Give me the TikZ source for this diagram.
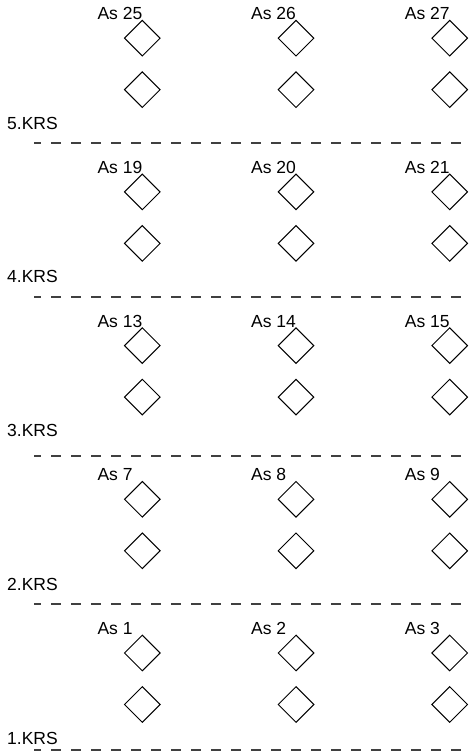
\documentclass[tikz,border=0pt]{standalone}
\usepackage{fontspec}
\setmainfont{Liberation Sans}
\usetikzlibrary{shapes.geometric}
\definecolor{mygray}{gray}{0.25}

\begin{document}
\begin{tikzpicture}[x=1pt,y=1pt,
  asnode/.style={draw,diamond,minimum size=36pt,inner sep=0pt,line width=1pt},
  aslabel/.style={font=\fontsize{17.5}{20}\selectfont,anchor=base west,inner sep=0pt},
  krslabel/.style={font=\fontsize{17.5}{20}\selectfont,anchor=west,inner sep=0pt},
  krsline/.style={mygray,line width=1.3pt,dash pattern=on 10pt off 10pt,dash phase=3pt}]
  \useasboundingbox (0,0) rectangle (469,755);
  \foreach \b in {1,...,5} {
    \pgfmathsetmacro{\yy}{102+153.7*(\b-1)}
    \foreach \c in {1,...,3} {
      \pgfmathsetmacro{\xx}{142.3+153.7*(\c-1)}
      \pgfmathtruncatemacro{\n}{6*(\b-1)+\c}
      \node[asnode] (as\n-1) at (\xx,\yy) {};
      \node[asnode] (as\n-2) at (\xx,\yy-51.5) {};
      \node[aslabel] (lab\n) at ([xshift=-45pt]as\n-1.north) {As \n};
    }
    \node[krslabel] (krs\b) at (7,\yy-85) {\b.KRS};
  }
  % dashed separators
  \foreach \y [count=\i] in {5,151,299,458,612} {
    \coordinate (sep\i-w) at (34,\y);
    \coordinate (sep\i-e) at (469,\y);
    \draw[krsline] (sep\i-w) -- (sep\i-e);
  }
\end{tikzpicture}
\end{document}
